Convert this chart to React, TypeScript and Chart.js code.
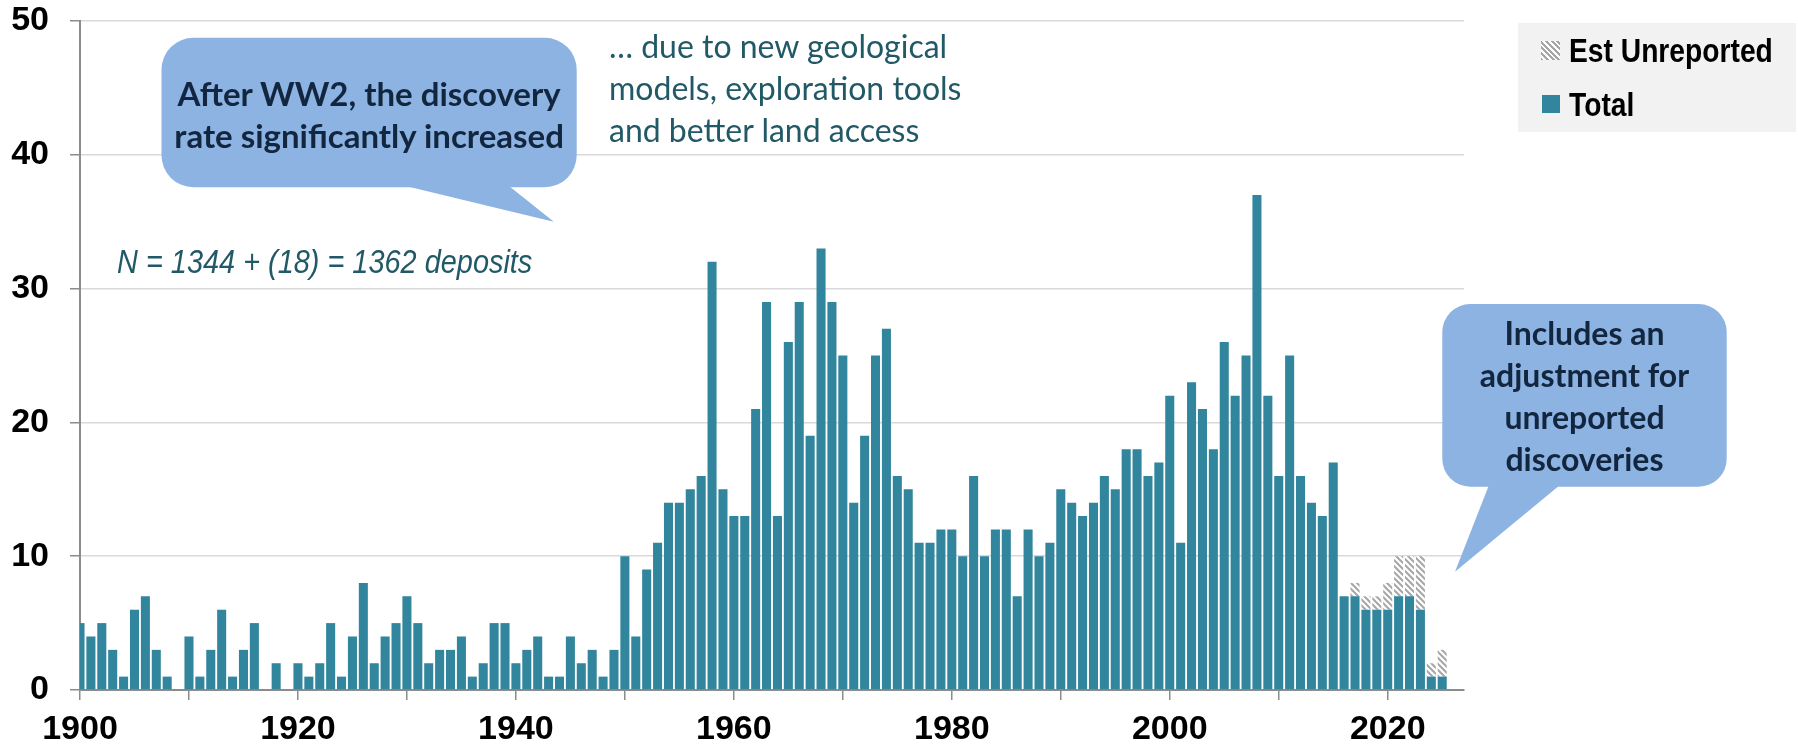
import React, { useEffect, useRef } from 'react';
import { Chart, registerables } from 'chart.js';

Chart.register(...registerables);

// ---- Data ----
const years = [
  1900, 1901, 1902, 1903, 1904, 1905, 1906, 1907, 1908, 1909,
  1910, 1911, 1912, 1913, 1914, 1915, 1916, 1917, 1918, 1919,
  1920, 1921, 1922, 1923, 1924, 1925, 1926, 1927, 1928, 1929,
  1930, 1931, 1932, 1933, 1934, 1935, 1936, 1937, 1938, 1939,
  1940, 1941, 1942, 1943, 1944, 1945, 1946, 1947, 1948, 1949,
  1950, 1951, 1952, 1953, 1954, 1955, 1956, 1957, 1958, 1959,
  1960, 1961, 1962, 1963, 1964, 1965, 1966, 1967, 1968, 1969,
  1970, 1971, 1972, 1973, 1974, 1975, 1976, 1977, 1978, 1979,
  1980, 1981, 1982, 1983, 1984, 1985, 1986, 1987, 1988, 1989,
  1990, 1991, 1992, 1993, 1994, 1995, 1996, 1997, 1998, 1999,
  2000, 2001, 2002, 2003, 2004, 2005, 2006, 2007, 2008, 2009,
  2010, 2011, 2012, 2013, 2014, 2015, 2016, 2017, 2018, 2019,
  2020, 2021, 2022, 2023, 2024, 2025,
];

const totals = [
  5, 4, 5, 3, 1, 6, 7, 3, 1, 0,
  4, 1, 3, 6, 1, 3, 5, 0, 2, 0,
  2, 1, 2, 5, 1, 4, 8, 2, 4, 5,
  7, 5, 2, 3, 3, 4, 1, 2, 5, 5,
  2, 3, 4, 1, 1, 4, 2, 3, 1, 3,
  10, 4, 9, 11, 14, 14, 15, 16, 32, 15,
  13, 13, 21, 29, 13, 26, 29, 19, 33, 29,
  25, 14, 19, 25, 27, 16, 15, 11, 11, 12,
  12, 10, 16, 10, 12, 12, 7, 12, 10, 11,
  15, 14, 13, 14, 16, 15, 18, 18, 16, 17,
  22, 11, 23, 21, 18, 26, 22, 25, 37, 22,
  16, 25, 16, 14, 13, 17, 7, 7, 6, 6,
  6, 7, 7, 6, 1, 1,
];

const estYears = [2017, 2018, 2019, 2020, 2021, 2022, 2023, 2024, 2025];
const estUnreported = [1, 1, 1, 2, 3, 3, 4, 1, 2];

const xTickLabels = ['1900', '1920', '1940', '1960', '1980', '2000', '2020'];
const yTickLabels = ['0', '10', '20', '30', '40', '50'];

const seriesLabels = ['Total', 'Est Unreported'];

const BAR_COLOR = '#31859c';
const HATCH_COLOR = '#a6a6a6';
const BUBBLE_COLOR = '#8db3e2';
const BUBBLE_TEXT = '#13263f';
const TEAL_TEXT = '#215967';

function makeHatch(): CanvasPattern | string {
  const s = 6;
  const c = document.createElement('canvas');
  c.width = s;
  c.height = s;
  const g = c.getContext('2d');
  if (!g) return HATCH_COLOR;
  g.fillStyle = '#ffffff';
  g.fillRect(0, 0, s, s);
  g.strokeStyle = HATCH_COLOR;
  g.lineWidth = 2;
  g.beginPath();
  g.moveTo(-1, -1);
  g.lineTo(s + 1, s + 1);
  g.moveTo(-1, s - 1);
  g.lineTo(1, s + 1);
  g.moveTo(s - 1, -1);
  g.lineTo(s + 1, 1);
  g.stroke();
  return g.createPattern(c, 'repeat') || HATCH_COLOR;
}

const axisFont = { family: "'Liberation Sans', Arial, sans-serif", size: 34, weight: 'bold' as const };

export default function App() {
  const canvasRef = useRef<HTMLCanvasElement | null>(null);

  useEffect(() => {
    const canvas = canvasRef.current;
    if (!canvas) return;
    const hatch = makeHatch();
    const chart = new Chart(canvas, {
      type: 'bar',
      data: {
        datasets: [
          {
            label: seriesLabels[0],
            data: years.map((x, i) => ({ x, y: totals[i] })),
            backgroundColor: BAR_COLOR,
            borderWidth: 0,
            barPercentage: 0.83,
            categoryPercentage: 1,
          },
          {
            label: seriesLabels[1],
            data: estYears.map((x, i) => ({ x, y: estUnreported[i] })),
            backgroundColor: hatch as any,
            borderWidth: 0,
            barPercentage: 0.83,
            categoryPercentage: 1,
          },
        ],
      },
      options: {
        animation: false,
        responsive: false,
        maintainAspectRatio: false,
        layout: { padding: { top: 21, right: 334, left: 0, bottom: 0 } },
        plugins: {
          legend: { display: false },
          tooltip: { enabled: false },
        },
        scales: {
          x: {
            type: 'linear',
            min: 1900,
            max: 2027,
            stacked: true,
            offset: false,
            grid: {
              offset: false,
              drawOnChartArea: false,
              drawTicks: true,
              tickLength: 10,
              tickColor: '#8c8c8c',
              lineWidth: 1.5,
            },
            border: { display: true, color: '#8c8c8c', width: 2 },
            ticks: {
              stepSize: 10,
              includeBounds: false,
              autoSkip: false,
              maxRotation: 0,
              padding: 9,
              color: '#000000',
              font: axisFont,
              callback: (v: any) => (xTickLabels.includes(String(v)) ? String(v) : ''),
            },
            afterFit: (s: any) => {
              s.height = 57;
            },
          },
          y: {
            type: 'linear',
            min: 0,
            max: 50,
            stacked: true,
            grid: {
              color: '#d9d9d9',
              lineWidth: 1.5,
              drawTicks: true,
              tickLength: 10,
              tickColor: '#8c8c8c',
            },
            border: { display: true, color: '#8c8c8c', width: 2 },
            ticks: {
              stepSize: 10,
              padding: 21,
              color: '#000000',
              font: axisFont,
              callback: (v: any) => (yTickLabels.includes(String(v)) ? String(v) : ''),
            },
            afterFit: (s: any) => {
              s.width = 80;
              s.paddingTop = 0;
              s.paddingBottom = 0;
            },
          },
        },
      } as any,
    });
    return () => chart.destroy();
  }, []);

  const bubbleTextStyle: React.CSSProperties = {
    position: 'absolute',
    fontFamily: "Lato, 'Noto Sans', sans-serif",
    fontWeight: 700,
    lineHeight: '42px',
    color: BUBBLE_TEXT,
    textAlign: 'center',
    whiteSpace: 'nowrap',
  };

  const narrowStyle: React.CSSProperties = {
    fontFamily: "'Liberation Sans', Arial, sans-serif",
    transformOrigin: 'left center',
    whiteSpace: 'nowrap',
  };

  return (
    <div style={{ position: 'fixed', left: 0, top: 0, width: 1798, height: 747, background: '#ffffff', overflow: 'hidden' }}>
      <canvas ref={canvasRef} width={1798} height={747} style={{ position: 'absolute', left: 0, top: 0, width: 1798, height: 747 }} />
      <svg width={1798} height={747} style={{ position: 'absolute', left: 0, top: 0, pointerEvents: 'none' }}>
        <rect x={161.5} y={37.7} width={415.2} height={149.6} rx={32} ry={32} fill={BUBBLE_COLOR} />
        <polygon points="405.7,186 509,186 553.8,221.7" fill={BUBBLE_COLOR} />
        <rect x={1442.3} y={304} width={284.4} height={182.7} rx={28} ry={28} fill={BUBBLE_COLOR} />
        <polygon points="1489,485 1560,485 1455,571.7" fill={BUBBLE_COLOR} />
      </svg>
      <div style={{ ...bubbleTextStyle, fontSize: 33, left: 161.5, width: 415.2, top: 72 }}>
        After WW2, the discovery
        <br />
        rate significantly increased
      </div>
      <div style={{ ...bubbleTextStyle, fontSize: 32, left: 1442.3, width: 284.4, top: 311.7 }}>
        Includes an
        <br />
        adjustment for
        <br />
        unreported
        <br />
        discoveries
      </div>
      <div
        style={{
          position: 'absolute',
          left: 609,
          top: 24.5,
          fontFamily: "Lato, 'Noto Sans', sans-serif",
          fontWeight: 400,
          fontSize: 32,
          lineHeight: '42px',
          color: TEAL_TEXT,
          whiteSpace: 'nowrap',
        }}
      >
        … due to new geological
        <br />
        models, exploration tools
        <br />
        and better land access
      </div>
      <div
        style={{
          ...narrowStyle,
          position: 'absolute',
          left: 116.7,
          top: 241.6,
          fontStyle: 'italic',
          fontSize: 34,
          lineHeight: '38px',
          color: TEAL_TEXT,
          transform: 'scaleX(0.85)',
        }}
      >
        N = 1344 + (18) = 1362 deposits
      </div>
      <div style={{ position: 'absolute', left: 1518, top: 22.7, width: 278, height: 109, background: '#f2f2f2' }}>
        <div
          style={{
            position: 'absolute',
            left: 23,
            top: 18,
            width: 19,
            height: 19,
            background: `repeating-linear-gradient(45deg, ${HATCH_COLOR} 0px, ${HATCH_COLOR} 2px, #ffffff 2px, #ffffff 4px)`,
          }}
        />
        <div
          style={{
            position: 'absolute',
            left: 24,
            top: 72.3,
            width: 18,
            height: 18,
            background: BAR_COLOR,
          }}
        />
        {[seriesLabels[1], seriesLabels[0]].map((t, i) => (
          <div
            key={t}
            style={{
              ...narrowStyle,
              position: 'absolute',
              left: 51,
              top: 7.3 + i * 54,
              height: 40,
              lineHeight: '40px',
              fontWeight: 700,
              fontSize: 34,
              color: '#000000',
              transform: 'scaleX(0.83)',
            }}
          >
            {t}
          </div>
        ))}
      </div>
    </div>
  );
}
